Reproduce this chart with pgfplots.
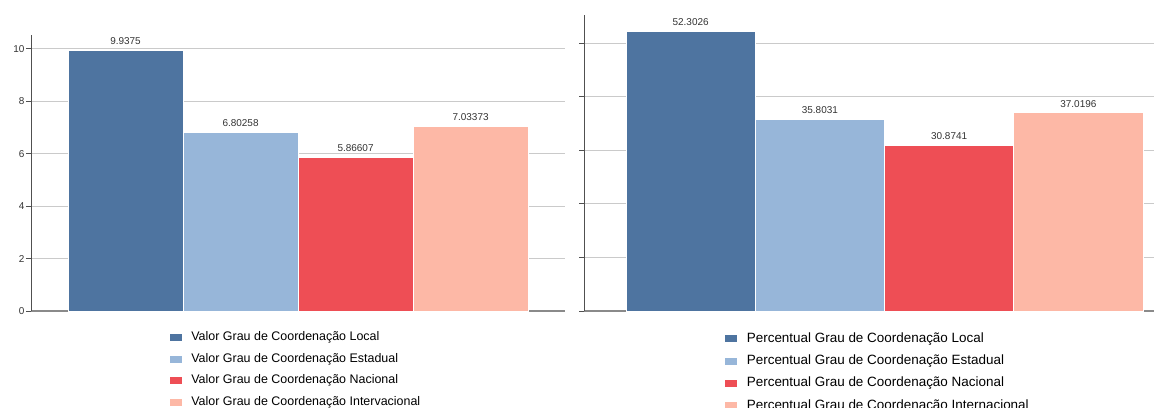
\documentclass[border=0pt]{standalone}
\usepackage{pgfplots}
\pgfplotsset{compat=1.18}
\usepackage{fontspec}
\setmainfont{Liberation Sans}
\definecolor{cA}{HTML}{4E74A0}
\definecolor{cB}{HTML}{97B6D9}
\definecolor{cC}{HTML}{EE4E55}
\definecolor{cD}{HTML}{FDB8A6}
\definecolor{gridc}{HTML}{CACACA}
\definecolor{xaxc}{HTML}{8A8A8A}
\definecolor{yaxc}{HTML}{505050}
\pgfplotsset{
  mybar/.style={
    scale only axis, anchor=south west,
    ybar, bar width=1,
    axis x line*=bottom, axis y line*=left,
    xtick=\empty, ymin=0,
    ymajorgrids, grid style={gridc, line width=1bp},
    x axis line style={xaxc, line width=2bp},
    y axis line style={yaxc, line width=0.9bp},
    ytick style={yaxc, line width=0.9bp},
    major tick length=5bp, tick align=outside,
    /pgf/number format/assume math mode=true,
    point meta=explicit symbolic,
    nodes near coords,
    every node near coord/.append style={font=\fontsize{10}{12}\selectfont, text=black!80, yshift=2bp},
    legend image code/.code={\fill[#1, draw=none] (0bp,-3.5bp) rectangle (12bp,3.5bp);},
    legend cell align=left,
    clip=false,
  },
  bb/.style={fill=#1, draw=white, line width=0.7bp, bar shift=0pt},
}
\begin{document}
\begin{tikzpicture}
\useasboundingbox (0,0) rectangle (1154bp,408bp);
\clip (0,0) rectangle (1154bp,408bp);
% left panel
\begin{axis}[mybar,
  at={(31bp,97bp)}, width=534bp, height=276bp,
  xmin=0.178, xmax=4.821, ymax=10.52,
  ytick={0,2,4,6,8,10},
  yticklabel style={font=\fontsize{10}{12}\selectfont, text=black!80, xshift=2bp},
  legend style={at={(0.255,-0.066)}, anchor=north west, draw=none, fill=none,
    font=\fontsize{12.5}{14}\selectfont, row sep=9.6bp, column sep=9bp,
    nodes={inner sep=0pt, text height=9bp, text depth=3bp}},
]
\addplot[bb=cA] coordinates {(1,9.9375) [9.9375]};
\addplot[bb=cB] coordinates {(2,6.80258) [6.80258]};
\addplot[bb=cC] coordinates {(3,5.86607) [5.86607]};
\addplot[bb=cD] coordinates {(4,7.03373) [7.03373]};
\legend{Valor Grau de Coordenação Local, Valor Grau de Coordenação Estadual, Valor Grau de Coordenação Nacional, Valor Grau de Coordenação Intervacional}
\end{axis}
% right panel
\begin{axis}[mybar,
  at={(584bp,97bp)}, width=570bp, height=296bp,
  xmin=0.175, xmax=4.585, ymax=55.3,
  ytick={0,10,20,30,40,50}, yticklabels={},
  legend style={at={(0.2415,-0.064)}, anchor=north west, draw=none, fill=none,
    font=\fontsize{13.5}{15}\selectfont, row sep=9.4bp, column sep=10bp,
    nodes={inner sep=0pt, text height=10bp, text depth=3bp}},
]
\addplot[bb=cA] coordinates {(1,52.3026) [52.3026]};
\addplot[bb=cB] coordinates {(2,35.8031) [35.8031]};
\addplot[bb=cC] coordinates {(3,30.8741) [30.8741]};
\addplot[bb=cD] coordinates {(4,37.0196) [37.0196]};
\legend{Percentual Grau de Coordenação Local, Percentual Grau de Coordenação Estadual, Percentual Grau de Coordenação Nacional, Percentual Grau de Coordenação Internacional}
\end{axis}
\end{tikzpicture}
\end{document}
